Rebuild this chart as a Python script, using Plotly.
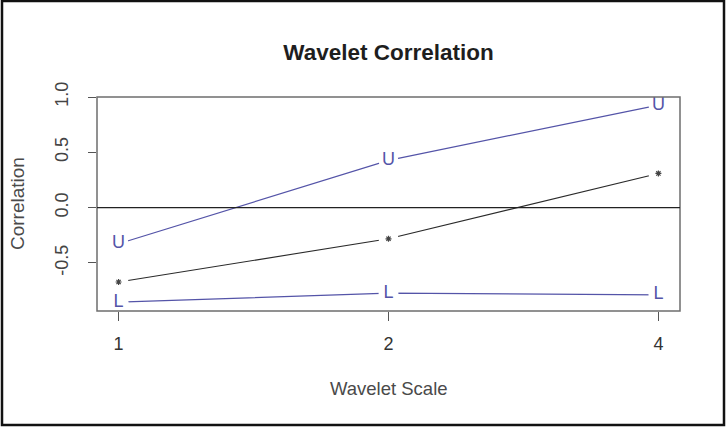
import plotly.graph_objects as go

# Wavelet correlation estimate with its lower / upper confidence bounds
scale_labels = ["1", "2", "4"]
scale_pos = [1, 2, 3]
upper = [-0.327, 0.427, 0.927]
estimate = [-0.673, -0.282, 0.309]
lower = [-0.855, -0.773, -0.790]

blue = "#5454a8"
font = "Liberation Sans, Arial, sans-serif"

fig = go.Figure()

def bound_trace(vals, letter):
    # line with a white gap under each letter, like R's type="b"
    return go.Scatter(
        x=scale_pos, y=vals, mode="lines+markers+text",
        line=dict(color=blue, width=1.2),
        marker=dict(symbol="circle", size=20, color="white", line=dict(width=0)),
        text=[letter] * len(vals), textposition="middle center",
        textfont=dict(family=font, size=18, color=blue),
        hoverinfo="skip", showlegend=False, cliponaxis=False,
    )

fig.add_trace(bound_trace(upper, "U"))
fig.add_trace(bound_trace(lower, "L"))
fig.add_trace(go.Scatter(
    x=scale_pos, y=estimate, mode="lines+markers",
    line=dict(color="#2a2a2a", width=1.1),
    marker=dict(symbol="circle", size=20, color="white", line=dict(width=0)),
    hoverinfo="skip", showlegend=False, cliponaxis=False,
))
fig.add_trace(go.Scatter(
    x=scale_pos, y=estimate, mode="markers",
    marker=dict(symbol="asterisk-open", size=5, color="#444444",
                line=dict(color="#444444", width=1.2)),
    hoverinfo="skip", showlegend=False, cliponaxis=False,
))

# plot box, zero reference line and outer frame
fig.add_shape(type="rect", xref="paper", yref="paper", x0=0, x1=1, y0=0, y1=1,
              line=dict(color="#6e6e6e", width=1.5), layer="above")
fig.add_shape(type="line", xref="paper", yref="y", x0=0, x1=1, y0=0, y1=0,
              line=dict(color="#222222", width=1.1), layer="above")
fig.add_shape(type="rect", xref="paper", yref="paper",
              x0=(2 - 97) / 583, x1=(724 - 97) / 583,
              y0=(311 - 425) / 214, y1=(311 - 1) / 214,
              line=dict(color="#111111", width=2.5), layer="above")

fig.update_layout(
    width=726, height=427,
    margin=dict(l=97, r=46, t=97, b=116),
    paper_bgcolor="white", plot_bgcolor="white",
    title=dict(text="<b>Wavelet Correlation</b>", x=(97 + 680) / 2 / 726,
               xanchor="center", y=1 - 52 / 427, yanchor="middle",
               font=dict(family=font, size=22.5, color="#1e1e1e")),
    xaxis=dict(range=[0.92, 3.08], tickmode="array", tickvals=scale_pos,
               ticktext=scale_labels, showgrid=False, zeroline=False,
               showline=False, ticks="outside", ticklen=9, tickwidth=1,
               tickcolor="#555555", ticklabelstandoff=7,
               tickfont=dict(family=font, size=18, color="#333333")),
    yaxis=dict(range=[-0.935, 1.0], tickmode="array",
               tickvals=[-0.5, 0.0, 0.5, 1.0],
               ticktext=["-0.5", "0.0", "0.5", "1.0"],
               showgrid=False, zeroline=False, showline=False,
               ticks="outside", ticklen=8, tickwidth=1, tickcolor="#555555",
               tickangle=-90, ticklabelstandoff=13,
               tickfont=dict(family=font, size=18, color="#444444")),
    annotations=[
        dict(text="Wavelet Scale", xref="paper", yref="paper", x=0.5, y=0,
             yshift=-77, xanchor="center", yanchor="middle", showarrow=False,
             font=dict(family=font, size=18.5, color="#4a4a4a")),
        dict(text="Correlation", xref="paper", yref="paper", x=0, y=0.5,
             xshift=-80, xanchor="center", yanchor="middle", showarrow=False,
             textangle=-90, font=dict(family=font, size=19, color="#4a4a4a")),
    ],
)

fig.write_html("out.html")
